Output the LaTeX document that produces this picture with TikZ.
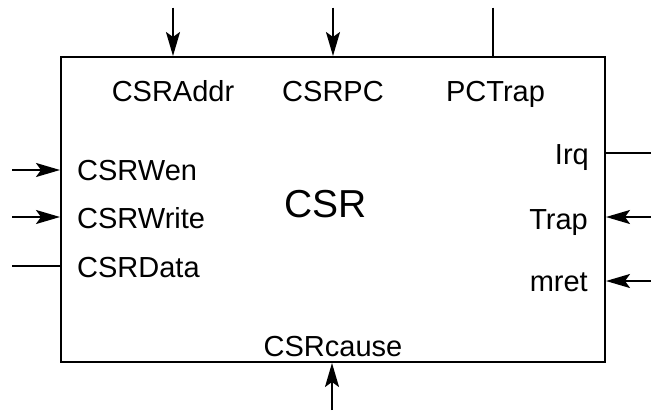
\documentclass[tikz,border=0pt]{standalone}
\usepackage{fontspec}
\setmainfont{Liberation Sans}
\usetikzlibrary{arrows.meta}
\begin{document}
\begin{tikzpicture}[x=1pt,y=-1pt,
  wire/.style={line width=2pt},
  sig/.style={wire,-{Stealth[length=24pt,width=14pt,inset=5pt]}},
  port/.style={inner sep=0pt,font=\fontsize{29}{34}\selectfont},
  title/.style={inner sep=0pt,font=\fontsize{39}{46}\selectfont}]
  \useasboundingbox (0,0) rectangle (651,413);

  % the CSR block
  \node[draw,line width=2pt,minimum width=544pt,minimum height=305pt,inner sep=0pt]
    (csr) at (333,209.5) {};
  \node[title,anchor=base] (name) at (325.5,217) {CSR};

  % top ports
  \node[port,anchor=base] (addr) at (173,101) {CSRAddr};
  \node[port,anchor=base] (pc) at (333,101) {CSRPC};
  \node[port,anchor=base] (pctrap) at (495.5,101) {PCTrap};

  % left ports
  \node[port,anchor=base west] (wen) at (77,180.5) {CSRWen};
  \node[port,anchor=base west] (write) at (77,228) {CSRWrite};
  \node[port,anchor=base west] (data) at (77,277) {CSRData};

  % right ports
  \node[port,anchor=base east] (irq) at (589,164) {Irq};
  \node[port,anchor=base east] (trap) at (588,229) {Trap};
  \node[port,anchor=base east] (mret) at (588,291) {mret};

  % bottom port
  \node[port,anchor=base] (cause) at (333,356) {CSRcause};

  % outer ends of the wires
  \coordinate (addrIn) at (173,7.5);
  \coordinate (pcIn) at (333,7.5);
  \coordinate (pctrapOut) at (493,7.5);
  \coordinate (wenIn) at (12,170);
  \coordinate (writeIn) at (12,217);
  \coordinate (dataOut) at (12,266);
  \coordinate (irqOut) at (651,153);
  \coordinate (trapIn) at (651,217);
  \coordinate (mretIn) at (651,281);
  \coordinate (causeIn) at (332,410);

  % wires
  \draw[sig] (addrIn) -- (addrIn |- csr.north);
  \draw[sig] (pcIn) -- (pcIn |- csr.north);
  \draw[wire] (pctrapOut) -- (pctrapOut |- csr.north);
  \draw[sig] (wenIn) -- (wenIn -| csr.west);
  \draw[sig] (writeIn) -- (writeIn -| csr.west);
  \draw[wire] (dataOut) -- (dataOut -| csr.west);
  \draw[wire] (irqOut) -- (irqOut -| csr.east);
  \draw[sig] (trapIn) -- (trapIn -| csr.east);
  \draw[sig] (mretIn) -- (mretIn -| csr.east);
  \draw[sig] (causeIn) -- (causeIn |- csr.south);
\end{tikzpicture}
\end{document}
